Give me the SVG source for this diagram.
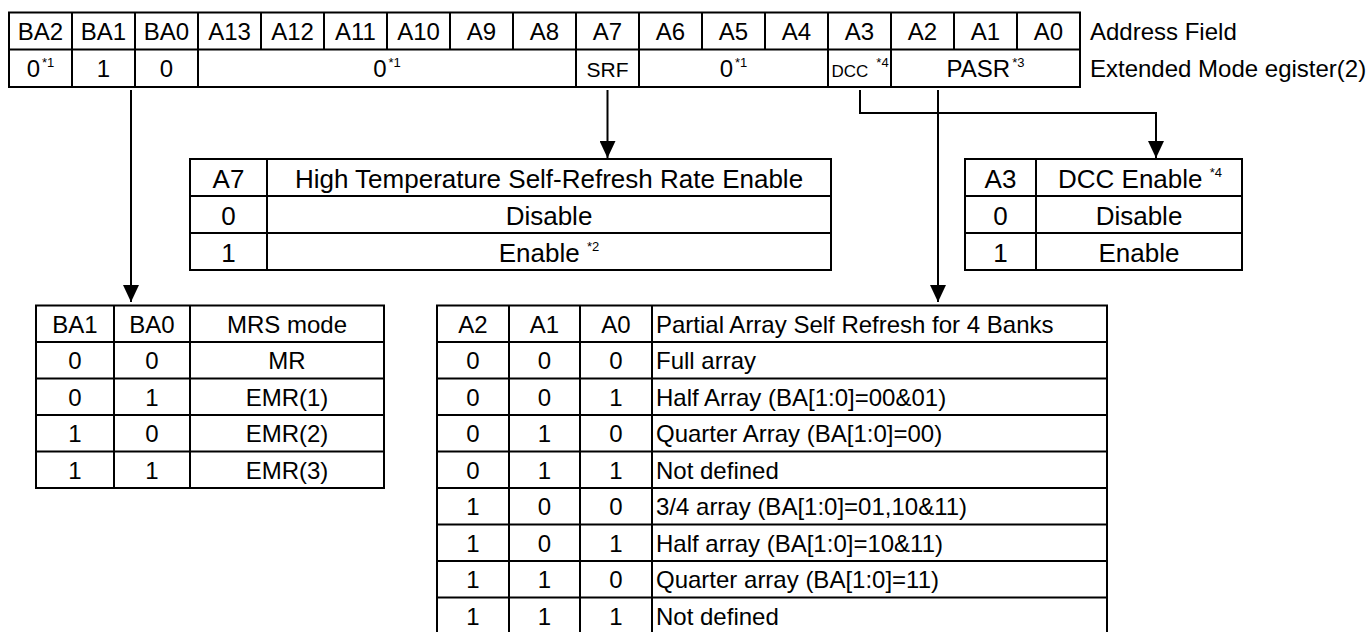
<svg xmlns="http://www.w3.org/2000/svg" width="1369" height="632" viewBox="0 0 1369 632">
<defs>
<style>
text{font-family:"Liberation Sans",Arial,sans-serif;font-size:24px;fill:#000}
.c{text-anchor:middle}
.w{font-size:26px}
.s{font-size:13px}
.t{fill:none;stroke:#000;stroke-width:2}
.g{fill:none;stroke:#000;stroke-width:2}
.cn{fill:none;stroke:#000;stroke-width:2}
</style>
<marker id="ah" markerUnits="userSpaceOnUse" markerWidth="18" markerHeight="16" refX="17" refY="8" orient="auto">
<path d="M0,0 L17,8 L0,16 Z" fill="#000"/>
</marker>
</defs>
<rect width="1369" height="632" fill="#fff"/>

<g id="register">
<rect class="t" x="9" y="12.5" width="1071" height="74.5"/>
<path class="g" d="M9 49.5H1080 M72 12.5V87 M135 12.5V87 M198 12.5V87 M261 12.5V49.5 M324 12.5V49.5 M387 12.5V49.5 M450 12.5V49.5 M513 12.5V49.5 M576 12.5V87 M639 12.5V87 M702 12.5V49.5 M765 12.5V49.5 M828 12.5V87 M891 12.5V87 M954 12.5V49.5 M1017 12.5V49.5"/>
<text class="c" x="40.5" y="40">BA2</text>
<text class="c" x="103.5" y="40">BA1</text>
<text class="c" x="166.5" y="40">BA0</text>
<text class="c" x="229.5" y="40">A13</text>
<text class="c" x="292.5" y="40">A12</text>
<text class="c" x="355.5" y="40">A11</text>
<text class="c" x="418.5" y="40">A10</text>
<text class="c" x="481.5" y="40">A9</text>
<text class="c" x="544.5" y="40">A8</text>
<text class="c" x="607.5" y="40">A7</text>
<text class="c" x="670.5" y="40">A6</text>
<text class="c" x="733.5" y="40">A5</text>
<text class="c" x="796.5" y="40">A4</text>
<text class="c" x="859.5" y="40">A3</text>
<text class="c" x="922.5" y="40">A2</text>
<text class="c" x="985.5" y="40">A1</text>
<text class="c" x="1048.5" y="40">A0</text>
<text class="c" x="40.5" y="77">0<tspan class="s" dx="2" dy="-10">*1</tspan></text>
<text class="c" x="103.5" y="77">1</text>
<text class="c" x="166.5" y="77">0</text>
<text class="c" x="387" y="77">0<tspan class="s" dx="2" dy="-10">*1</tspan></text>
<text class="c" x="607.5" y="77" style="font-size:21px">SRF</text>
<text class="c" x="733.5" y="77">0<tspan class="s" dx="2" dy="-10">*1</tspan></text>
<text x="831.5" y="77" style="font-size:17px">DCC<tspan class="s" dx="8" dy="-10">*4</tspan></text>
<text class="c" x="985.5" y="77">PASR<tspan class="s" dx="2" dy="-10">*3</tspan></text>
<text x="1090" y="40">Address Field</text>
<text x="1090" y="77">Extended Mode egister(2)</text>
</g>

<g id="srf-table">
<rect class="t" x="190" y="159" width="641" height="111"/>
<path class="g" d="M190 196H831 M190 233H831 M267 159V270"/>
<text class="c w" x="228.5" y="187.5">A7</text>
<text class="c w" x="549" y="187.5">High Temperature Self-Refresh Rate Enable</text>
<text class="c w" x="228.5" y="224.5">0</text>
<text class="c w" x="549" y="224.5">Disable</text>
<text class="c w" x="228.5" y="261.5">1</text>
<text class="c w" x="549" y="261.5">Enable <tspan class="s" dy="-11">*2</tspan></text>
</g>

<g id="dcc-table">
<rect class="t" x="965" y="159" width="277" height="111"/>
<path class="g" d="M965 196H1242 M965 233H1242 M1036 159V270"/>
<text class="c w" x="1000.5" y="187.5">A3</text>
<text class="c w" x="1140" y="187.5">DCC Enable <tspan class="s" dy="-11">*4</tspan></text>
<text class="c w" x="1000.5" y="224.5">0</text>
<text class="c w" x="1139" y="224.5">Disable</text>
<text class="c w" x="1000.5" y="261.5">1</text>
<text class="c w" x="1139" y="261.5">Enable</text>
</g>

<g id="mrs-table">
<rect class="t" x="36" y="305.5" width="348" height="182.5"/>
<path class="g" d="M36 342H384 M36 378.5H384 M36 415H384 M36 451.5H384 M114 305.5V488 M190 305.5V488"/>
<text class="c" x="75" y="332.5">BA1</text>
<text class="c" x="152" y="332.5">BA0</text>
<text class="c" x="287" y="332.5">MRS mode</text>
<text class="c" x="75" y="369">0</text>
<text class="c" x="152" y="369">0</text>
<text class="c" x="287" y="369">MR</text>
<text class="c" x="75" y="405.5">0</text>
<text class="c" x="152" y="405.5">1</text>
<text class="c" x="287" y="405.5">EMR(1)</text>
<text class="c" x="75" y="442">1</text>
<text class="c" x="152" y="442">0</text>
<text class="c" x="287" y="442">EMR(2)</text>
<text class="c" x="75" y="478.5">1</text>
<text class="c" x="152" y="478.5">1</text>
<text class="c" x="287" y="478.5">EMR(3)</text>
</g>

<g id="pasr-table">
<rect class="t" x="437" y="305.5" width="670" height="328.5"/>
<path class="g" d="M437 342H1107 M437 378.5H1107 M437 415H1107 M437 451.5H1107 M437 488H1107 M437 524.5H1107 M437 561H1107 M437 597.5H1107 M509 305.5V634 M580 305.5V634 M652 305.5V634"/>
<text class="c" x="473" y="332.5">A2</text>
<text class="c" x="544.5" y="332.5">A1</text>
<text class="c" x="616" y="332.5">A0</text>
<text x="656" y="332.5">Partial Array Self Refresh for 4 Banks</text>
<text class="c" x="473" y="369">0</text><text class="c" x="544.5" y="369">0</text><text class="c" x="616" y="369">0</text>
<text x="656" y="369">Full array</text>
<text class="c" x="473" y="405.5">0</text><text class="c" x="544.5" y="405.5">0</text><text class="c" x="616" y="405.5">1</text>
<text x="656" y="405.5">Half Array (BA[1:0]=00&amp;01)</text>
<text class="c" x="473" y="442">0</text><text class="c" x="544.5" y="442">1</text><text class="c" x="616" y="442">0</text>
<text x="656" y="442">Quarter Array (BA[1:0]=00)</text>
<text class="c" x="473" y="478.5">0</text><text class="c" x="544.5" y="478.5">1</text><text class="c" x="616" y="478.5">1</text>
<text x="656" y="478.5">Not defined</text>
<text class="c" x="473" y="515">1</text><text class="c" x="544.5" y="515">0</text><text class="c" x="616" y="515">0</text>
<text x="656" y="515">3/4 array (BA[1:0]=01,10&amp;11)</text>
<text class="c" x="473" y="551.5">1</text><text class="c" x="544.5" y="551.5">0</text><text class="c" x="616" y="551.5">1</text>
<text x="656" y="551.5">Half array (BA[1:0]=10&amp;11)</text>
<text class="c" x="473" y="588">1</text><text class="c" x="544.5" y="588">1</text><text class="c" x="616" y="588">0</text>
<text x="656" y="588">Quarter array (BA[1:0]=11)</text>
<text class="c" x="473" y="624.5">1</text><text class="c" x="544.5" y="624.5">1</text><text class="c" x="616" y="624.5">1</text>
<text x="656" y="624.5">Not defined</text>
</g>

<g id="connectors">
<path class="cn" d="M131 90V302" marker-end="url(#ah)"/>
<path class="cn" d="M607.5 90V158" marker-end="url(#ah)"/>
<path class="cn" d="M860 90V113H1156V158" marker-end="url(#ah)"/>
<path class="cn" d="M938 90V302" marker-end="url(#ah)"/>
</g>
</svg>
